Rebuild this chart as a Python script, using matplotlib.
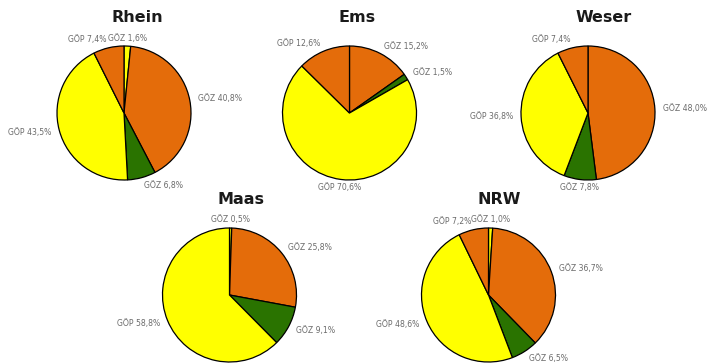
import matplotlib
matplotlib.use("Agg")
import matplotlib.pyplot as plt
import numpy as np

# Data
rivers = ["Rhein", "Ems", "Weser", "Maas", "NRW"]
prefixes = ["GÖZ", "GÖZ", "GÖZ", "GÖP", "GÖP"]
class_colors = ["#FFFF00", "#E46C0A", "#2A7300", "#FFFF00", "#E46C0A"]
rhein = [1.6, 40.8, 6.8, 43.5, 7.4]
ems = [0.0, 15.2, 1.5, 70.6, 12.6]
weser = [0.0, 48.0, 7.8, 36.8, 7.4]
maas = [0.5, 25.8, 9.1, 58.8, 0.0]
nrw = [1.0, 36.7, 6.5, 48.6, 7.2]
series = [rhein, ems, weser, maas, nrw]

W, H = 710, 363
fig = plt.figure(figsize=(W / 100, H / 100), dpi=100)
fig.patch.set_facecolor("white")

# layout (pixel centres, radius)
centers = [(124, 113), (349.5, 113), (588, 113), (229.5, 295), (488.5, 295)]
title_pos = [(137, 18), (357, 18), (604, 18), (241, 200), (499, 200)]
R = 67
half = R * 1.25

for name, vals, (cx, cy), (tx, ty) in zip(rivers, series, centers, title_pos):
    ax = fig.add_axes([(cx - half) / W, (H - cy - half) / H, 2 * half / W, 2 * half / H])
    v, c, lab = [], [], []
    for val, col, pre in zip(vals, class_colors, prefixes):
        if val > 0:
            v.append(val)
            c.append(col)
            lab.append(f"{pre} {val:.1f}%".replace(".", ","))
    wedges, texts = ax.pie(v, colors=c, labels=lab, startangle=90, counterclock=False,
                           labeldistance=1.12,
                           wedgeprops=dict(edgecolor="black", linewidth=0.9),
                           textprops=dict(fontsize=5.6, color="#6b6b6b",
                                          family="DejaVu Sans"))
    for w, t in zip(wedges, texts):
        ang = np.deg2rad((w.theta1 + w.theta2) / 2)
        if abs(np.cos(ang)) < 0.15:
            t.set_ha("center")
    ax.set_xlim(-1.25, 1.25)
    ax.set_ylim(-1.25, 1.25)
    ax.set_aspect("equal")
    ax.axis("off")
    fig.text(tx / W, 1 - ty / H, name, ha="center", va="center",
             fontsize=11.5, fontweight="bold", color="#1a1a1a", family="DejaVu Sans")

fig.savefig("out.png", dpi=100, facecolor="white")
